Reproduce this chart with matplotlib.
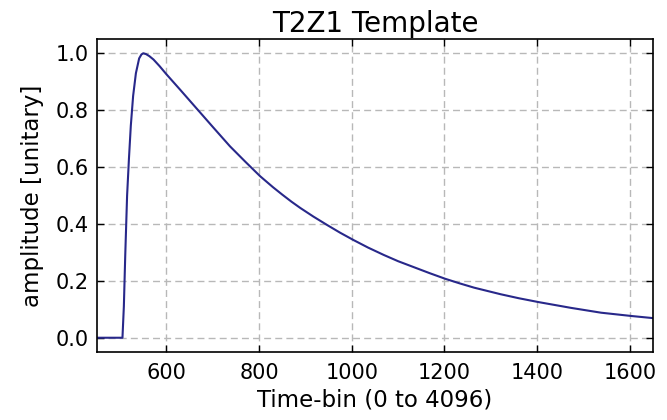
import matplotlib
matplotlib.use("Agg")
import matplotlib.pyplot as plt

# template pulse, sampled off the waveform
time_bin = [450, 505, 508, 511, 515, 519, 523, 528, 534, 541, 546, 550, 556, 563,
            572, 585, 600, 630, 665, 700, 737, 770, 802, 830, 850, 870, 889, 917,
            947, 975, 1003, 1035, 1069, 1100, 1134, 1168, 1202, 1233, 1264, 1321,
            1360, 1404, 1473, 1538, 1606, 1650]
amplitude = [0.0, 0.0, 0.11, 0.29, 0.50, 0.63, 0.745, 0.85, 0.93, 0.982, 0.996, 1.0,
             0.997, 0.99, 0.978, 0.955, 0.926, 0.871, 0.806, 0.741, 0.673, 0.619,
             0.568, 0.529, 0.503, 0.478, 0.456, 0.426, 0.396, 0.369, 0.344, 0.317,
             0.291, 0.269, 0.248, 0.227, 0.207, 0.191, 0.176, 0.153, 0.139, 0.125,
             0.105, 0.088, 0.076, 0.069]

x_ticks = [600, 800, 1000, 1200, 1400, 1600]
y_ticks = [0.0, 0.2, 0.4, 0.6, 0.8, 1.0]

fig = plt.figure(figsize=(6.67, 4.2), dpi=100)
ax = fig.add_axes([0.1454, 0.162, 0.8336, 0.745])

ax.plot(time_bin, amplitude, color="#28288a", linewidth=1.5)

ax.set_xlim(450, 1650)
ax.set_ylim(-0.05, 1.05)
ax.set_xticks(x_ticks)
ax.set_yticks(y_ticks)
ax.set_yticklabels([f"{v:.1f}" for v in y_ticks])

ax.grid(True, color="#b8b8b8", linestyle=(0, (5, 3)), linewidth=1.0)
ax.tick_params(direction="in", top=True, right=True, length=5, width=1,
               labelsize=15)
ax.tick_params(axis="x", pad=8)
ax.tick_params(axis="y", pad=6)
for spine in ax.spines.values():
    spine.set_linewidth(1.2)

ax.set_title("T2Z1 Template", fontsize=20, pad=5)
ax.set_xlabel("Time-bin (0 to 4096)", fontsize=16.5, labelpad=4)
ax.set_ylabel("amplitude [unitary]", fontsize=16.5, labelpad=8)

fig.savefig("out.png", dpi=100)
